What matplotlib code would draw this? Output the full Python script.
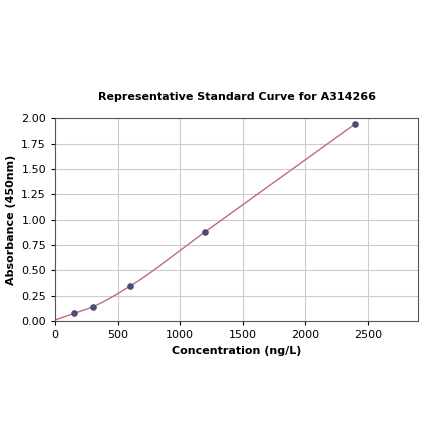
import numpy as np
import matplotlib.pyplot as plt

# standard curve data
conc = [0, 150, 300, 600, 1200, 2400]
absorb = [0.01, 0.075, 0.14, 0.345, 0.88, 1.945]
x_ticks = [0, 500, 1000, 1500, 2000, 2500]
y_ticks = [0.00, 0.25, 0.50, 0.75, 1.00, 1.25, 1.50, 1.75, 2.00]


def pchip(x, y, xs):
    # monotone piecewise cubic (Fritsch-Carlson) through the standards
    x = np.asarray(x, float)
    y = np.asarray(y, float)
    h = np.diff(x)
    d = np.diff(y) / h
    m = np.zeros_like(y)
    for k in range(1, len(x) - 1):
        if d[k - 1] * d[k] > 0:
            w1 = 2 * h[k] + h[k - 1]
            w2 = h[k] + 2 * h[k - 1]
            m[k] = (w1 + w2) / (w1 / d[k - 1] + w2 / d[k])
    m[0] = d[0]
    m[-1] = d[-1]
    idx = np.clip(np.searchsorted(x, xs) - 1, 0, len(h) - 1)
    t = (xs - x[idx]) / h[idx]
    h00 = 2 * t**3 - 3 * t**2 + 1
    h10 = t**3 - 2 * t**2 + t
    h01 = -2 * t**3 + 3 * t**2
    h11 = t**3 - t**2
    return (h00 * y[idx] + h10 * h[idx] * m[idx]
            + h01 * y[idx + 1] + h11 * h[idx] * m[idx + 1])


xs = np.linspace(0, max(conc), 400)
ys = pchip(conc, absorb, xs)

fig = plt.figure(figsize=(4.4, 4.41), dpi=100)
ax = fig.add_axes([0.125, 0.272, 0.825, 0.46])

ax.plot(xs, ys, color='#c06a85', linewidth=1.0, zorder=2)
ax.scatter(conc[1:], absorb[1:], s=14, color='#4b4a78', zorder=3)

ax.set_xlim(0, 2900)
ax.set_ylim(0, 2.0)
ax.set_xticks(x_ticks)
ax.set_yticks(y_ticks)
ax.set_yticklabels(['%.2f' % v for v in y_ticks])
ax.tick_params(labelsize=8, length=3)
ax.grid(True, color='#cccccc', linewidth=0.8)
ax.set_axisbelow(True)
for s in ax.spines.values():
    s.set_color('#555555')

ax.set_xlabel('Concentration (ng/L)', fontsize=8, fontweight='bold')
ax.set_ylabel('Absorbance (450nm)', fontsize=8, fontweight='bold')
ax.set_title('Representative Standard Curve for A314266', fontsize=8, fontweight='bold', pad=13)

fig.savefig('out.png', dpi=100)
